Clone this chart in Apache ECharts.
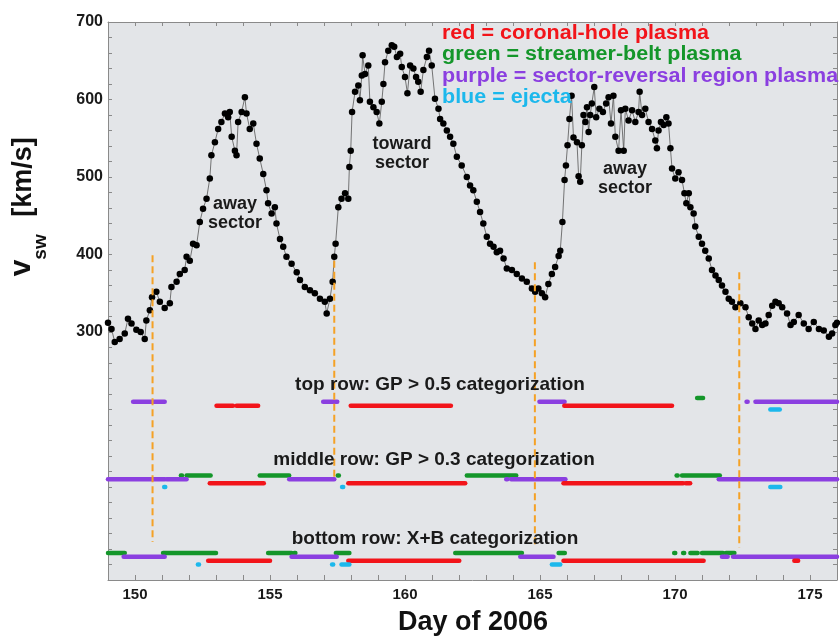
<!DOCTYPE html>
<html><head><meta charset="utf-8">
<script src="https://cdn.jsdelivr.net/npm/echarts@6/dist/echarts.min.js"></script>
<style>html,body{margin:0;padding:0;background:#fff}#c{width:840px;height:639px}</style>
</head><body><div id="c"></div>
<script>
// Solar wind speed (day of 2006, km/s)
const vsw = [[149.0,312],[149.13,304],[149.25,287],[149.43,291],[149.62,298],[149.74,317],[149.87,311],[150.05,303],[150.21,300],[150.36,291],[150.42,315],[150.55,328],[150.63,345],[150.79,352],[150.92,339],[151.1,331],[151.29,337],[151.35,358],[151.54,365],[151.66,375],[151.84,380],[151.91,397],[152.03,392],[152.15,414],[152.28,412],[152.4,442],[152.52,459],[152.65,472],[152.77,498],[152.83,528],[152.96,545],[153.08,562],[153.2,571],[153.33,582],[153.45,577],[153.51,584],[153.58,552],[153.7,534],[153.76,528],[153.82,571],[153.95,584],[154.07,603],[154.13,582],[154.25,562],[154.38,569],[154.5,543],[154.62,524],[154.75,504],[154.87,483],[154.93,466],[155.06,453],[155.18,461],[155.24,440],[155.37,420],[155.49,410],[155.61,397],[155.8,388],[155.99,377],[156.11,367],[156.29,358],[156.48,354],[156.66,350],[156.85,343],[157.03,339],[157.1,324],[157.22,343],[157.32,365],
[157.38,397],[157.43,414],[157.53,461],[157.65,472],[157.78,479],[157.9,472],[157.94,513],[157.99,534],[158.04,584],[158.15,610],[158.27,618],[158.33,599],[158.4,631],[158.43,657],[158.52,633],[158.64,644],[158.7,597],[158.83,590],[158.95,584],[159.05,569],[159.14,597],[159.2,620],[159.26,648],[159.38,663],[159.51,670],[159.6,668],[159.7,655],[159.82,659],[159.88,642],[160.0,629],[160.09,608],[160.19,644],[160.31,640],[160.41,629],[160.49,623],[160.58,610],[160.68,638],[160.81,655],[160.89,663],[160.99,644],[161.11,601],[161.24,588],[161.3,575],[161.42,569],[161.55,560],[161.67,552],[161.79,543],[161.92,526],[162.1,515],[162.29,500],[162.41,489],[162.53,483],[162.66,468],[162.78,455],[162.9,440],[163.03,423],[163.15,414],[163.28,410],[163.4,403],[163.52,405],[163.65,395],[163.77,382],[163.96,380],[164.14,375],[164.33,369],[164.51,365],[164.7,356],[164.82,352],[164.94,356],[165.07,350],[165.19,345],[165.31,362],[165.44,375],[165.56,384],[165.69,398],
[165.75,405],[165.83,442],[165.91,496],[165.96,515],[166.02,541],[166.09,575],[166.17,605],[166.24,551],[166.37,545],[166.43,501],[166.49,494],[166.55,541],[166.61,580],[166.68,571],[166.74,590],[166.8,558],[166.86,580],[166.92,595],[167.01,616],[167.08,577],[167.2,588],[167.33,584],[167.45,595],[167.54,603],[167.63,569],[167.72,605],[167.79,552],[167.91,534],[168.0,586],[168.1,534],[168.16,588],[168.28,573],[168.41,586],[168.53,571],[168.65,584],[168.69,610],[168.78,580],[168.9,588],[169.02,571],[169.15,562],[169.27,547],[169.33,537],[169.39,560],[169.48,571],[169.58,567],[169.68,577],[169.76,569],[169.83,537],[169.89,511],[170.01,498],[170.13,506],[170.26,496],[170.35,479],[170.42,466],[170.51,479],[170.57,461],[170.69,453],[170.75,436],[170.88,423],[171.0,414],[171.12,405],[171.25,395],[171.37,380],[171.5,373],[171.62,367],[171.74,360],[171.87,352],[171.99,343],[172.11,339],[172.24,332],[172.42,337],[172.61,332],[172.73,319],[172.86,311],[172.98,304],[173.1,315],[173.23,309],[173.35,311],[173.47,322],[173.6,334],[173.72,339],[173.84,337],[173.97,332],[174.15,324],[174.28,309],[174.4,313],[174.58,322],[174.77,311],[174.95,304],[175.14,313],[175.33,304],[175.51,302],[175.7,294],[175.82,298],[175.94,309],[176.0,312]];

// Row levels (y value of each categorization row) and per-category offsets
const rowLevels = {top: 210, middle: 110, bottom: 10};
const catNames = ['green', 'purple', 'red', 'blue'];
const catOffsets = [5, 0, -5, -10];

// Categorization intervals [start day, end day]
const topRow = {
  green: [[170.82,171.04]],
  purple: [[149.93,151.10],[156.97,157.49],[164.98,165.91],[172.65,172.69],[172.98,176.0]],
  red: [[153.02,153.63],[153.76,154.56],[157.99,161.70],[165.90,169.89]],
  blue: [[173.53,173.88]]
};
const middleRow = {
  green: [[151.70,151.74],[151.91,152.80],[154.62,155.71],[157.51,157.55],[162.29,164.12],[170.06,170.10],[170.26,171.66]],
  purple: [[149.0,151.10],[151.17,151.91],[155.71,157.38],[163.75,163.79],[163.93,165.94],[171.62,176.0]],
  red: [[152.77,154.77],[157.90,162.23],[165.87,170.30],[170.40,170.56]],
  blue: [[151.08,151.12],[157.67,157.71],[173.53,173.90]]
};
const bottomRow = {
  green: [[149.0,149.62],[151.04,153.0],[154.93,155.80],[155.90,155.94],[157.44,157.94],[161.86,164.33],[165.69,165.92],[169.97,170.01],[170.30,170.34],[170.57,170.84],[171.0,171.78],[171.89,172.20]],
  purple: [[149.58,151.10],[155.80,157.47],[164.27,165.50],[171.74,171.95],[172.15,176.0]],
  red: [[152.71,155.0],[157.90,162.01],[165.87,171.06],[174.42,174.56]],
  blue: [[152.33,152.37],[157.30,157.34],[157.65,157.94],[165.44,165.75]]
};

// Sector boundary markers: [day, top value, bottom value]
const boundaries = [[150.65,399,29],[157.38,392,113],[164.81,390,22],[172.38,377,22]];

const catColors = {green:'#14962a', purple:'#8b3fe0', red:'#f2141a', blue:'#1cb8ec'};

const segData = [];
[[topRow,rowLevels.top],[middleRow,rowLevels.middle],[bottomRow,rowLevels.bottom]].forEach(([row, base]) => {
  catNames.forEach((c, ci) => {
    row[c].forEach(([s, e]) => segData.push([s, e, base + catOffsets[ci], ci]));
  });
});

const chart = echarts.init(document.getElementById('c'), null, {renderer:'canvas'});
const axisCol = '#8a8a8a';
const tickStyle = {show:true, inside:true, length:4, lineStyle:{color:axisCol, width:1}};
const FF = 'Liberation Sans, Arial, sans-serif';

chart.setOption({
  animation:false,
  grid:{left:108, right:2, top:22, bottom:59, show:true, backgroundColor:'#e3e5e8', borderWidth:0},
  xAxis:[{
    type:'value', min:149, max:176, interval:1, position:'bottom',
    axisLine:{show:true, onZero:false, lineStyle:{color:axisCol, width:1}},
    axisTick:Object.assign({}, tickStyle, {length:5}),
    splitLine:{show:false},
    axisLabel:{margin:7, color:'#1a1a1a', fontFamily:FF, fontWeight:'bold', fontSize:15,
      formatter:v => (Math.round(v) % 5 === 0 ? String(Math.round(v)) : '')}
  },{
    type:'value', min:149, max:176, interval:1, position:'top',
    axisLine:{show:true, onZero:false, lineStyle:{color:axisCol, width:1}},
    axisTick:tickStyle, splitLine:{show:false}, axisLabel:{show:false}
  }],
  yAxis:[{
    type:'value', min:-20, max:700, interval:20, position:'left',
    axisLine:{show:true, onZero:false, lineStyle:{color:axisCol, width:1}},
    axisTick:tickStyle, splitLine:{show:false},
    axisLabel:{margin:5, color:'#1a1a1a', fontFamily:FF, fontWeight:'bold', fontSize:16,
      formatter:v => (v >= 300 && v % 100 === 0 ? String(v) : '')}
  },{
    type:'value', min:-20, max:700, interval:20, position:'right',
    axisLine:{show:true, onZero:false, lineStyle:{color:axisCol, width:1}},
    axisTick:tickStyle, splitLine:{show:false}, axisLabel:{show:false}
  }],
  series:[{
    type:'line', xAxisIndex:0, yAxisIndex:0, data:vsw,
    symbol:'circle', symbolSize:6.5, showAllSymbol:true,
    itemStyle:{color:'#000'}, lineStyle:{color:'#555', width:0.8}, z:3
  },{
    type:'custom', xAxisIndex:0, yAxisIndex:0, data:segData,
    encode:{x:[0,1], y:2},
    renderItem:(params, api) => {
      const a = api.coord([api.value(0), api.value(2)]);
      const b = api.coord([api.value(1), api.value(2)]);
      return {type:'line', shape:{x1:a[0], y1:a[1], x2:b[0], y2:b[1]},
        style:{stroke:catColors[catNames[api.value(3)]], lineWidth:4.5, lineCap:'round'}};
    }, z:2
  },{
    type:'custom', xAxisIndex:0, yAxisIndex:0, data:boundaries,
    encode:{x:0, y:[1,2]},
    renderItem:(params, api) => {
      const a = api.coord([api.value(0), api.value(1)]);
      const b = api.coord([api.value(0), api.value(2)]);
      return {type:'line', shape:{x1:a[0], y1:a[1], x2:b[0], y2:b[1]},
        style:{stroke:'#f5a125', lineWidth:2, lineDash:[7,4]}};
    }, z:4
  }],
  graphic:[
    {type:'text', x:442, y:33, scaleX:1.075, z:10, style:{text:'red = coronal-hole plasma', fill:'#f2141a', font:'bold 20px '+FF, textVerticalAlign:'middle'}},
    {type:'text', x:442, y:54.5, scaleX:1.075, z:10, style:{text:'green = streamer-belt plasma', fill:'#14962a', font:'bold 20px '+FF, textVerticalAlign:'middle'}},
    {type:'text', x:442, y:76, scaleX:1.075, z:10, style:{text:'purple = sector-reversal region plasma', fill:'#8b3fe0', font:'bold 20px '+FF, textVerticalAlign:'middle'}},
    {type:'text', x:442, y:97.5, scaleX:1.075, z:10, style:{text:'blue = ejecta', fill:'#1cb8ec', font:'bold 20px '+FF, textVerticalAlign:'middle'}},
    {type:'text', x:235, y:214, z:10, style:{text:'away\nsector', fill:'#1a1a1a', font:'bold 18px '+FF, textAlign:'center', textVerticalAlign:'middle', lineHeight:19}},
    {type:'text', x:402, y:154, z:10, style:{text:'toward\nsector', fill:'#1a1a1a', font:'bold 18px '+FF, textAlign:'center', textVerticalAlign:'middle', lineHeight:19}},
    {type:'text', x:625, y:179, z:10, style:{text:'away\nsector', fill:'#1a1a1a', font:'bold 18px '+FF, textAlign:'center', textVerticalAlign:'middle', lineHeight:19}},
    {type:'text', x:440, y:385, z:10, style:{text:'top row: GP > 0.5 categorization', fill:'#1a1a1a', font:'bold 19px '+FF, textAlign:'center', textVerticalAlign:'middle'}},
    {type:'text', x:434, y:460, z:10, style:{text:'middle row: GP > 0.3 categorization', fill:'#1a1a1a', font:'bold 19px '+FF, textAlign:'center', textVerticalAlign:'middle'}},
    {type:'text', x:435, y:539, z:10, style:{text:'bottom row: X+B categorization', fill:'#1a1a1a', font:'bold 19px '+FF, textAlign:'center', textVerticalAlign:'middle'}},
    {type:'text', x:473, y:623, z:10, style:{text:'Day of 2006', fill:'#111', font:'bold 27px '+FF, textAlign:'center', textVerticalAlign:'middle'}},
    {type:'text', x:37, y:177, rotation:Math.PI/2, z:10, style:{text:'[km/s]', fill:'#111', font:'bold 27px '+FF, textAlign:'center', textVerticalAlign:'bottom'}},
    {type:'text', x:37, y:268, rotation:Math.PI/2, z:10, style:{text:'v', fill:'#111', font:'bold 30px '+FF, textAlign:'center', textVerticalAlign:'bottom'}},
    {type:'text', x:50, y:247, rotation:Math.PI/2, z:10, style:{text:'sw', fill:'#111', font:'bold 19px '+FF, textAlign:'center', textVerticalAlign:'bottom'}}
  ]
});
</script></body></html>
